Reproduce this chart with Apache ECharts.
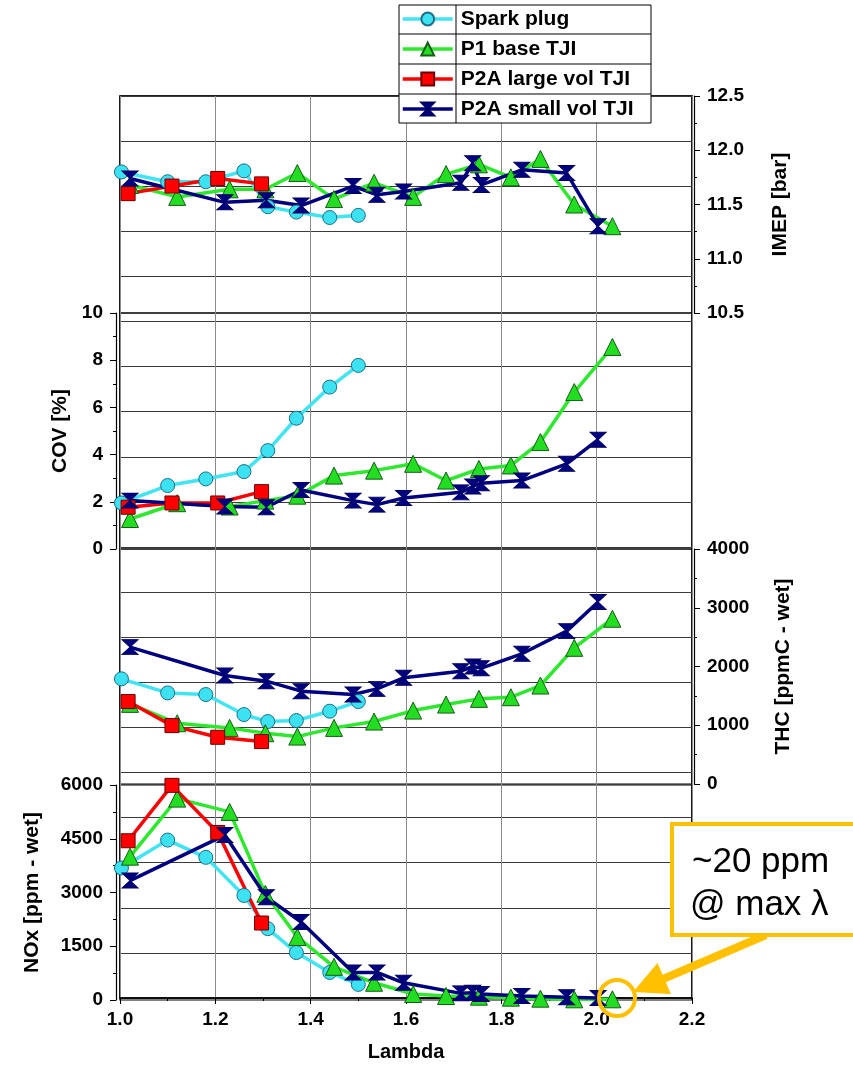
<!DOCTYPE html>
<html>
<head>
<meta charset="utf-8">
<title>Lambda sweep</title>
<script src="https://cdn.jsdelivr.net/npm/echarts@6/dist/echarts.min.js"></script>
<style>
html, body { margin: 0; padding: 0; background: #fff; }
#main { width: 853px; height: 1067px; }
</style>
</head>
<body>
<div id="main"></div>
<script>
var seriesNames = ['Spark plug', 'P1 base TJI', 'P2A large vol TJI', 'P2A small vol TJI'];

// Spark plug
var spLam  = [1.003, 1.10, 1.18, 1.26, 1.31, 1.37, 1.44, 1.50];
var spImep = [11.80, 11.71, 11.71, 11.81, 11.48, 11.43, 11.38, 11.40];
var spCov  = [1.95, 2.69, 2.97, 3.28, 4.17, 5.54, 6.86, 7.78];
var spThc  = [1790, 1551, 1523, 1182, 1063, 1080, 1239, 1403];
var spNox  = [3685, 4463, 3981, 2917, 1991, 1324, 769, 435];

// P1 base TJI
var p1Lam  = [1.021, 1.12, 1.23, 1.305, 1.372, 1.449, 1.533, 1.615, 1.684, 1.753, 1.82, 1.882, 1.953, 2.033];
var p1Imep = [11.68, 11.57, 11.64, 11.64, 11.79, 11.55, 11.70, 11.57, 11.78, 11.87, 11.75, 11.92, 11.50, 11.30];
var p1Cov  = [1.27, 1.94, 1.80, 2.05, 2.26, 3.11, 3.32, 3.61, 2.90, 3.39, 3.54, 4.53, 6.65, 8.56];
var p1Thc  = [1364, 1034, 955, 864, 807, 955, 1063, 1250, 1352, 1449, 1477, 1676, 2318, 2813];
var p1Nox  = [4000, 5620, 5250, 2963, 1759, 926, 481, 167, 111, 93, 65, 37, 19, 20];

// P2A large vol TJI
var plLam  = [1.017, 1.109, 1.205, 1.297];
var plImep = [11.60, 11.67, 11.74, 11.69];
var plCov  = [1.77, 1.95, 1.95, 2.43];
var plThc  = [1403, 994, 795, 722];
var plNox  = [4444, 5990, 4676, 2148];

// P2A small vol TJI
var psLam  = [1.021, 1.22, 1.307, 1.38, 1.489, 1.539, 1.595, 1.715, 1.74, 1.758, 1.843, 1.937, 2.003];
var psImep = [11.74, 11.52, 11.54, 11.49, 11.67, 11.59, 11.62, 11.70, 11.88, 11.68, 11.82, 11.79, 11.30];
var psCov  = [2.05, 1.80, 1.77, 2.50, 2.05, 1.88, 2.16, 2.40, 2.65, 2.79, 2.90, 3.61, 4.63];
var psThc  = [2330, 1847, 1750, 1580, 1523, 1619, 1807, 1920, 2000, 1972, 2216, 2602, 3097];
var psNox  = [3333, 4602, 2870, 2176, 769, 769, 481, 185, 204, 167, 111, 74, 56];

var lamList = [spLam, p1Lam, plLam, psLam];
var imepList = [spImep, p1Imep, plImep, psImep];
var covList = [spCov, p1Cov, plCov, psCov];
var thcList = [spThc, p1Thc, plThc, psThc];
var noxList = [spNox, p1Nox, plNox, psNox];

var font = 'Liberation Sans, Arial, sans-serif';
var hourglass = 'path://M0,0L10,0L5,5ZM5,5L10,10L0,10Z';

var looks = [
    { line: '#40e4f2', fill: '#3ce2f2', border: '#1c6f86', symbol: 'circle', size: 14 },
    { line: '#2ee82e', fill: '#22dd22', border: '#175c17', symbol: 'triangle', size: 17 },
    { line: '#ff0000', fill: '#ff0000', border: '#6a0000', symbol: 'rect', size: 14 },
    { line: '#000080', fill: '#000080', border: '#000060', symbol: hourglass, size: [16, 15] }
];

function pairs(lam, vals) {
    return lam.map(function (l, i) { return [l, vals[i]]; });
}

var series = [];
[imepList, covList, thcList, noxList].forEach(function (list, p) {
    for (var s = 0; s < 4; s++) {
        var lk = looks[s];
        series.push({
            name: seriesNames[s],
            type: 'line',
            xAxisIndex: p + 1,
            yAxisIndex: p + 1,
            data: pairs(lamList[s], list[s]),
            symbol: lk.symbol,
            symbolSize: lk.size,
            showAllSymbol: true,
            lineStyle: { color: lk.line, width: 3.5 },
            itemStyle: { color: lk.fill, borderColor: lk.border, borderWidth: 1 },
            emphasis: { disabled: true },
            animation: false
        });
    }
});

var tickFont = { color: '#000', fontWeight: 'bold', fontSize: 19, fontFamily: font };
var nameFont = { color: '#000', fontWeight: 'bold', fontSize: 21, fontFamily: font };

function plain(v) { return String(v); }

function panelY(idx, pos, min, max, step, name, gap, fmt) {
    return {
        type: 'value',
        gridIndex: idx,
        position: pos,
        offset: pos === 'left' ? 4 : 2,
        min: min,
        max: max,
        interval: step,
        name: name,
        nameLocation: 'middle',
        nameRotate: 90,
        nameGap: gap,
        nameTextStyle: nameFont,
        axisLine: { show: true, lineStyle: { color: '#000', width: 1.2 } },
        axisTick: { show: true, length: 6, lineStyle: { color: '#000' } },
        minorTick: { show: true, splitNumber: 2, length: 3, lineStyle: { color: '#000' } },
        axisLabel: Object.assign({ margin: 13, showMinLabel: true, showMaxLabel: true, formatter: fmt || plain }, tickFont),
        splitLine: { show: false }
    };
}

function hiddenX(idx) {
    return { type: 'value', gridIndex: idx, min: 1, max: 2.2, interval: 0.2, show: false };
}

var panelBox = { show: true, borderColor: '#000', borderWidth: 1.2, backgroundColor: 'transparent', left: 120, right: 161 };

var option = {
    backgroundColor: '#fff',
    animation: false,
    grid: [
        { show: true, borderColor: '#000', borderWidth: 1.5, left: 120, right: 161, top: 96, bottom: 67 },
        Object.assign({ top: 96, bottom: 754 }, panelBox),
        Object.assign({ top: 313, bottom: 518 }, panelBox),
        Object.assign({ top: 549, bottom: 283 }, panelBox),
        Object.assign({ top: 785, bottom: 67 }, panelBox)
    ],
    xAxis: [
        {
            type: 'value',
            gridIndex: 0,
            min: 1,
            max: 2.2,
            interval: 0.2,
            name: 'Lambda',
            nameLocation: 'middle',
            nameGap: 44,
            nameTextStyle: { color: '#000', fontWeight: 'bold', fontSize: 20, fontFamily: font },
            axisLine: { show: true, lineStyle: { color: '#000', width: 1.5 } },
            axisTick: { show: true, length: 6, lineStyle: { color: '#000' } },
            minorTick: { show: true, splitNumber: 2, length: 3, lineStyle: { color: '#000' } },
            axisLabel: Object.assign({ margin: 12, formatter: function (v) { return v.toFixed(1); } }, tickFont),
            splitLine: { show: true, lineStyle: { color: '#8a8a8a', width: 1 } }
        },
        hiddenX(1), hiddenX(2), hiddenX(3), hiddenX(4)
    ],
    yAxis: [
        {
            type: 'value',
            gridIndex: 0,
            min: 0,
            max: 20,
            interval: 1,
            axisLine: { show: false },
            axisTick: { show: false },
            axisLabel: { show: false },
            splitLine: { show: true, lineStyle: { color: '#3a3a3a', width: 1 } }
        },
        panelY(1, 'right', 10.5, 12.5, 0.5, 'IMEP [bar]', 76, function (v) { return v.toFixed(1); }),
        panelY(2, 'left', 0, 10, 2, 'COV [%]', 40),
        panelY(3, 'right', 0, 4000, 1000, 'THC [ppmC - wet]', 79),
        panelY(4, 'left', 0, 6000, 1500, 'NOx [ppm - wet]', 73)
    ],
    legend: {
        data: seriesNames,
        orient: 'vertical',
        left: 401,
        top: 7,
        itemWidth: 50,
        itemHeight: 16,
        itemGap: 6,
        padding: 0,
        z: 20,
        selectedMode: false,
        lineStyle: { width: 3.5 },
        textStyle: { color: '#000', fontWeight: 'bold', fontSize: 21, fontFamily: font, lineHeight: 24, padding: [0, 0, 0, 3] }
    },
    graphic: [
        // legend table
        { type: 'rect', z: 15, shape: { x: 399, y: 5, width: 252, height: 118 },
          style: { fill: '#fff', stroke: '#000', lineWidth: 1 } },
        { type: 'line', z: 16, shape: { x1: 399, y1: 34, x2: 651, y2: 34 }, style: { stroke: '#000', lineWidth: 1 } },
        { type: 'line', z: 16, shape: { x1: 399, y1: 64, x2: 651, y2: 64 }, style: { stroke: '#000', lineWidth: 1 } },
        { type: 'line', z: 16, shape: { x1: 399, y1: 94, x2: 651, y2: 94 }, style: { stroke: '#000', lineWidth: 1 } },
        { type: 'line', z: 16, shape: { x1: 456, y1: 5, x2: 456, y2: 123 }, style: { stroke: '#000', lineWidth: 1 } },
        // callout
        { type: 'polygon', z: 30,
          shape: { points: [[764.4, 931.3], [662.6, 974.8], [657.5, 962.9], [633, 992], [670.9, 994.1], [665.8, 982.2], [767.6, 938.7]] },
          style: { fill: '#ffc000' } },
        { type: 'circle', z: 30, shape: { cx: 617, cy: 998, r: 18 },
          style: { fill: 'none', stroke: '#ffc000', lineWidth: 4 } },
        { type: 'rect', z: 31, shape: { x: 672, y: 824, width: 200, height: 111 },
          style: { fill: '#fff', stroke: '#ffc000', lineWidth: 4 } },
        { type: 'text', z: 32, x: 692, y: 862,
          style: { text: '~20 ppm', fill: '#000', fontSize: 35, fontFamily: font, verticalAlign: 'middle' } },
        { type: 'text', z: 32, x: 690, y: 905,
          style: { text: '@ max \u03bb', fill: '#000', fontSize: 35, fontFamily: font, verticalAlign: 'middle' } }
    ],
    series: series
};

var myChart = echarts.init(document.getElementById('main'));
myChart.setOption(option);
window.addEventListener('resize', function () {
    myChart.resize();
});
</script>
</body>
</html>
